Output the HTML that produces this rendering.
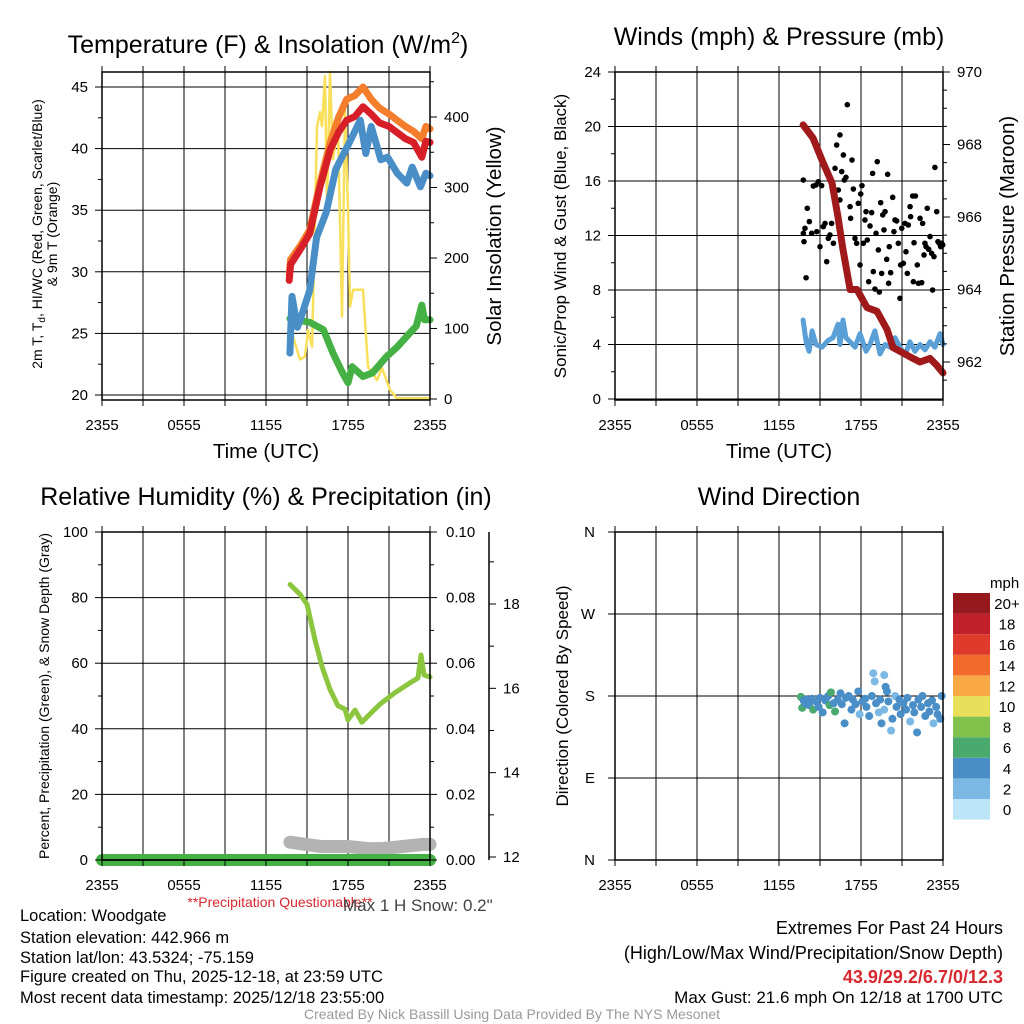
<!DOCTYPE html>
<html><head><meta charset="utf-8">
<style>
html,body{margin:0;padding:0;background:#fff;}
svg{display:block;font-family:"Liberation Sans",Arial,sans-serif;}
</style></head>
<body>
<svg id="chart" width="1024" height="1024" viewBox="0 0 1024 1024" xmlns="http://www.w3.org/2000/svg">
<rect x="0" y="0" width="1024" height="1024" fill="#fff"/>
<g id="marks"></g>
<g id="frames"></g>
<g font-size="25" text-anchor="middle" fill="#000">
<text x="268" y="53">Temperature (F) &amp; Insolation (W/m<tspan font-size="16" dy="-10">2</tspan><tspan dy="10">)</tspan></text>
<text x="779" y="45">Winds (mph) &amp; Pressure (mb)</text>
<text x="266" y="505">Relative Humidity (%) &amp; Precipitation (in)</text>
<text x="779" y="505">Wind Direction</text>
</g>
<g font-size="20.5" text-anchor="middle">
<text x="266" y="458">Time (UTC)</text>
<text x="779" y="458">Time (UTC)</text>
<text transform="translate(501,236) rotate(-90)">Solar Insolation (Yellow)</text>
<text transform="translate(1014,236) rotate(-90)">Station Pressure (Maroon)</text>
</g>
<g font-size="14" text-anchor="middle">
<text transform="translate(42,234) rotate(-90)">2m T, T<tspan font-size="10" dy="3">d</tspan><tspan dy="-3">, HI/WC (Red, Green, Scarlet/Blue)</tspan></text>
<text transform="translate(57,234) rotate(-90)">&amp; 9m T (Orange)</text>
<text transform="translate(49,696) rotate(-90)">Percent, Precipitation (Green), &amp; Snow Depth (Gray)</text>
</g>
<g font-size="17" text-anchor="middle">
<text transform="translate(566,236) rotate(-90)">Sonic/Prop Wind &amp; Gust (Blue, Black)</text>
<text transform="translate(568,696) rotate(-90)">Direction (Colored By Speed)</text>
</g>
<text x="280" y="907" font-size="14" fill="#d6282e" text-anchor="middle">**Precipitation Questionable**</text>
<text x="343" y="911" font-size="17" fill="#444">Max 1 H Snow: 0.2"</text>
<g font-size="16.5" fill="#000">
<text x="20" y="921">Location: Woodgate</text>
<text x="20" y="943">Station elevation: 442.966 m</text>
<text x="20" y="963">Station lat/lon: 43.5324; -75.159</text>
<text x="20" y="982">Figure created on Thu, 2025-12-18, at 23:59 UTC</text>
<text x="20" y="1003">Most recent data timestamp: 2025/12/18 23:55:00</text>
</g>
<g font-size="18" text-anchor="end">
<text x="1003" y="934">Extremes For Past 24 Hours</text>
<text x="1003" y="959">(High/Low/Max Wind/Precipitation/Snow Depth)</text>
<text x="1003" y="983" fill="#d6282e" font-weight="bold">43.9/29.2/6.7/0/12.3</text>
<text x="1003" y="1003" font-size="17">Max Gust: 21.6 mph On 12/18 at 1700 UTC</text>
</g>
<text x="512" y="1019" font-size="14" fill="#999" text-anchor="middle">Created By Nick Bassill Using Data Provided By The NYS Mesonet</text>
</svg>
<script>
// ---------- data ----------
const xTickLabels = ["2355","0555","1155","1755","2355"];
const tempTicks = [20,25,30,35,40,45];
const solarTicks = [0,100,200,300,400];
const windTicks = [0,4,8,12,16,20,24];
const pressTicks = [962,964,966,968,970];
const rhTicks = [0,20,40,60,80,100];
const precipTicks = ["0.00","0.02","0.04","0.06","0.08","0.10"];
const snowTicks = [12,14,16,18];
const dirLabels = ["N","E","S","W","N"];
const speedBins = ["0","2","4","6","8","10","12","14","16","18","20+"];
const speedColors = ["#bde5f8","#7cb8e4","#4a8ec8","#4aaa6e","#80c24b","#e8e05a","#f8a945","#f26a2c","#df3a2b","#c0202a","#961a1d"];

const tempHours = [13.7,13.8,14.5,15.2,15.95,16.7,17.3,17.9,18.5,19.1,19.7,20.3,21.0,21.6,22.2,22.8,23.4,23.7,24];
const redTemp = [29.3,30.6,31.8,33.1,36.9,39.9,41.3,42.3,42.6,43.4,42.8,42.1,41.8,41.3,40.8,40.5,39.3,40.6,40.5];
const orangeTemp = [29.8,31.0,32.1,33.4,37.2,40.5,42.5,44.0,44.3,45.0,44.0,43.3,42.8,42.3,41.8,41.4,40.8,41.8,41.6];
const blueHours = [13.75,13.9,14.3,14.5,15.2,15.7,16.4,17.1,18.1,18.9,19.3,19.7,20.4,20.9,21.6,22.3,22.7,23.3,23.7,24];
const blueTemp = [23.4,28,25.5,26.1,28.5,32.8,34.8,38.3,40.5,42.3,39.6,41.8,39.1,39.3,38,37.2,38.5,36.9,38,37.8];
const greenHours = [13.75,15.2,16.2,16.9,17.6,18.0,18.3,19.1,19.8,20.8,21.6,22.5,23.0,23.4,23.6,24];
const greenTemp = [26.2,25.9,25.3,23.4,21.8,21,22.3,21.5,21.8,23.1,23.9,25,25.6,27.3,26.1,26.1];
const solarHours = [13.76,13.98,14.49,14.85,15.07,15.37,15.73,15.95,16.1,16.32,16.46,16.68,16.9,17.27,17.56,17.78,18.0,18.15,18.37,19.1,19.46,20.12,20.49,21.07,21.58,23.93];
const solarVals = [84,88,56,60,98,74,387,407,387,458,273,464,340,387,117,411,269,131,155,155,46,27,44,13,1,1];

const pressHours = [13.76,14.49,15.22,15.88,16.32,16.68,17.2,17.71,18.44,19.17,19.9,20.34,21.07,21.8,22.32,23.05,23.56,24];
const pressVals = [968.54,968.18,967.5,966.94,966,965.1,964,964,963.5,963.4,962.9,962.4,962.25,962.1,962,962.1,961.9,961.7];
const windHours = [13.76,13.98,14.2,14.42,14.71,15.15,15.59,15.95,16.32,16.46,16.68,16.9,17.2,17.56,17.93,18.37,18.66,19.02,19.39,19.76,20.12,20.49,20.85,21.22,21.58,21.95,22.32,22.68,23.05,23.41,23.78,24];
const windVals = [5.8,4.2,3.5,5.0,4.0,3.8,4.3,4.5,5.5,4.0,5.8,4.5,4.2,3.8,4.8,3.5,4.0,5.0,3.3,4.0,3.8,4.5,3.8,3.2,4.2,3.5,4.0,3.6,4.2,3.8,4.8,4.0];
const gustHours = [13.78,14.07,13.98,13.9,13.78,13.83,14.22,14.39,14.51,14.71,14.88,15.12,14.76,15.0,15.24,15.37,15.49,15.61,15.73,15.85,15.98,16.1,16.22,16.46,16.59,16.71,16.78,16.9,17.0,16.34,16.46,17.2,17.24,17.34,17.44,17.56,17.68,17.8,17.93,17.98,18.07,18.17,18.29,18.37,18.46,18.56,18.66,18.78,18.85,18.9,19.02,19.1,19.19,19.27,19.34,19.44,19.51,19.59,19.68,19.76,19.88,19.95,20.02,20.07,20.17,20.32,20.41,20.49,20.61,20.73,20.85,20.9,20.98,21.1,21.22,21.29,21.39,21.46,21.59,21.63,21.78,21.88,21.98,21.83,22.12,22.2,22.32,22.44,22.51,22.61,22.68,22.76,22.85,22.95,23.05,23.17,23.24,23.34,23.41,23.54,23.63,23.73,23.83,23.9,23.98];
const gustVals = [16.07,14.0,8.9,12.53,12.16,11.55,13.02,12.16,15.63,15.71,15.95,15.66,12.28,11.18,12.65,12.89,10.08,11.79,12.04,12.89,11.43,16.93,18.64,19.38,16.69,17.91,16.07,16.27,21.6,15.34,14.61,14.12,13.26,17.54,15.41,11.79,11.43,14.36,9.84,15.05,15.66,11.43,13.14,13.75,11.67,8.61,12.70,13.68,16.56,9.35,8.07,12.16,17.42,10.94,7.85,14.41,9.22,13.51,12.41,13.75,10.25,16.49,8.49,11.18,9.27,14.80,12.28,13.14,13.07,11.43,7.39,9.84,12.53,9.96,12.89,10.81,9.22,12.77,14.12,13.38,14.90,11.47,14.90,8.61,9.84,8.49,13.26,8.54,12.89,10.57,11.43,11.18,14.0,10.99,11.92,10.69,8.0,10.45,17.0,13.75,11.55,11.43,11.18,11.43,11.30];

const rhHours = [13.76,14.49,15.0,15.59,16.1,16.68,17.27,17.78,18.0,18.51,19.02,19.61,20.34,21.44,22.54,23.12,23.34,23.56,24];
const rhVals = [84,81,78,67,59,52,47,46,42.7,45.7,42,44.5,47.5,51,54,55.5,62.5,56.4,55.8];
const precipHours = [0,24];
const precipVals = [0,0];
const snowHours = [13.75,16,18,19.5,20.5,22,23.5,24];
const snowVals = [12.35,12.25,12.25,12.2,12.2,12.25,12.3,12.3];

const dirHours = [13.6,13.7,13.8,13.9,14.0,14.2,14.4,14.5,14.7,14.9,15.0,15.2,15.4,15.6,15.7,15.8,16.0,16.1,16.3,16.5,16.6,16.8,16.9,17.1,17.3,17.4,17.6,17.8,17.9,18.1,18.3,18.4,18.6,18.8,18.9,19.0,19.1,19.3,19.4,19.5,19.7,19.7,19.8,19.9,20.0,20.2,20.3,20.5,20.6,20.8,20.9,21.1,21.3,21.4,21.6,21.8,21.9,22.1,22.2,22.4,22.5,22.7,22.9,23.0,23.2,23.3,23.5,23.6,23.8,23.9];
const dirVals = [179,167,175,172,176,170,177,165,174,168,178,162,175,180,170,184,172,163,176,183,171,150,178,180,165,176,171,185,160,174,177,168,158,180,205,196,172,162,176,150,165,203,190,185,174,142,155,180,168,176,160,172,165,178,152,170,162,140,176,168,180,158,172,163,175,150,168,160,155,180];
const dirSpeeds = [6.5,6.5,4,4,4.5,4,4,6.5,4,4,4,4,4,4,6.5,6.5,4,6.5,4,4,4,4,4,4,4,4,4,4,3,4,4,4,4,4,3,3,4,3,4,4,3,3,4,4,4,3,4,3,4,4,4,4,4,4,3,4,4,4,4,4,4,4,4,4,4,3,4,4,4,4];

// ---------- helpers ----------
const NS = "http://www.w3.org/2000/svg";
const marks = document.getElementById('marks');
const frames = document.getElementById('frames');
function mk(tag, attrs, parent){
  const e = document.createElementNS(NS, tag);
  for (const k in attrs) e.setAttribute(k, attrs[k]);
  parent.appendChild(e);
  return e;
}
function linear(d0,d1,r0,r1){ return v => r0 + (v-d0)/(d1-d0)*(r1-r0); }

const panels = {
  tl:{x0:102,x1:430,y0:72,y1:400},
  tr:{x0:615,x1:943,y0:72,y1:400},
  bl:{x0:102,x1:430,y0:532,y1:860},
  br:{x0:615,x1:943,y0:532,y1:860}
};
function xScale(p){ return linear(0,24,p.x0,p.x1); }

function frame(p, name){
  const g = mk('g', {}, frames);
  
  
  const xs = xScale(p);
  for (let h=3; h<24; h+=3){
    const l = mk('line',{x1:xs(h),x2:xs(h),y1:p.y0,y2:p.y1,stroke:'#000','stroke-width':1}, marks);
    
    
  }
  for (let h=0; h<=24; h+=3){
    mk('line',{x1:xs(h),x2:xs(h),y1:p.y1,y2:p.y1+6,stroke:'#000'}, g);
    mk('line',{x1:xs(h),x2:xs(h),y1:p.y0,y2:p.y0-6,stroke:'#000'}, g);
  }
  xTickLabels.forEach((t,i)=>{
    const tx = mk('text',{x:xs(i*6),y:p.y1+30,'font-size':15,'text-anchor':'middle'}, g);
    tx.textContent = t;
    
    
  });
  const r = mk('rect',{x:p.x0,y:p.y0,width:p.x1-p.x0,height:p.y1-p.y0,fill:'none',stroke:'#000','stroke-width':1.5}, g);
  
  
  return g;
}
function yAxis(p, g, vals, labels, scale, side, labelX, grid, minor){
  vals.forEach((v,i)=>{
    const y = scale(v);
    const x = side==='left'? p.x0 : p.x1;
    const dir = side==='left'? -1 : 1;
    mk('line',{x1:x,x2:x+7*dir,y1:y,y2:y,stroke:'#000'}, g);
    if (grid){
      const l = mk('line',{x1:p.x0,x2:p.x1,y1:y,y2:y,stroke:'#000','stroke-width':1}, marks);
      
      
    }
    const t = mk('text',{x:labelX,y:y+5,'font-size':15,'text-anchor': side==='left'?'end':'start'}, g);
    t.textContent = labels[i];
    
    
  });
  if (minor){
    minor.forEach(v=>{
      const y = scale(v); const x = side==='left'? p.x0 : p.x1;
      mk('line',{x1:x,x2:x+(side==='left'?-4:4),y1:y,y2:y,stroke:'#000'}, g);
    });
  }
}
function path(xs, ys, hours, vals, color, width, name, cap){
  let d = '';
  hours.forEach((h,i)=>{ d += (i?'L':'M') + xs(h).toFixed(1) + ',' + ys(vals[i]).toFixed(1); });
  const e = mk('path',{d:d,fill:'none',stroke:color,'stroke-width':width,'stroke-linejoin':'round','stroke-linecap':cap||'round'}, marks);
  
  
  return e;
}

// ---------- panel 1: temperature ----------
{
  const p = panels.tl, g = frame(p,'temperature');
  const xs = xScale(p);
  const yT = linear(20,45,395,87);
  const yS = linear(0,400,399,117);
  yAxis(p,g,tempTicks,tempTicks,yT,'left',p.x0-14,true,[22.5,27.5,32.5,37.5,42.5]);
  yAxis(p,g,solarTicks,solarTicks,yS,'right',p.x1+14,false,[50,150,250,350,450]);
  path(xs,yS,solarHours,solarVals,'#f8e05a',2.5,'solar-insolation-line');
  path(xs,yT,greenHours,greenTemp,'#45b043',7,'dewpoint-line');
  path(xs,yT,tempHours,orangeTemp,'#f57e2c',7,'nine-meter-temp-line');
  path(xs,yT,tempHours,redTemp,'#d61f26',7,'two-meter-temp-line');
  path(xs,yT,blueHours,blueTemp,'#4a8ec8',7,'wind-chill-line');
}
// ---------- panel 2: winds ----------
{
  const p = panels.tr, g = frame(p,'winds');
  const xs = xScale(p);
  const yW = linear(0,24,399,72);
  const yP = linear(962,970,362,72);
  yAxis(p,g,windTicks,windTicks,yW,'left',p.x0-14,true,[2,6,10,14,18,22]);
  yAxis(p,g,pressTicks,pressTicks,yP,'right',p.x1+14,false,[961.5,962.5,963,963.5,964.5,965,965.5,966.5,967,967.5,968.5,969,969.5]);
  path(xs,yW,windHours,windVals,'#5a9fd6',5,'sustained-wind-line');
  gustHours.forEach((h,i)=>{
    const c = mk('circle',{cx:xs(h),cy:yW(gustVals[i]),r:2.8,fill:'#000'}, marks);
    
    
  });
  path(xs,yP,pressHours,pressVals,'#a01a1c',7,'pressure-line');
}
// ---------- panel 3: humidity ----------
{
  const p = panels.bl, g = frame(p,'humidity');
  const xs = xScale(p);
  const yR = linear(0,100,860,532);
  const ySn = linear(12,18,857,604);
  yAxis(p,g,rhTicks,rhTicks,yR,'left',p.x0-14,true,[10,30,50,70,90]);
  yAxis(p,g,rhTicks,precipTicks,yR,'right',p.x1+16,false,[10,30,50,70,90]);
  const ax = mk('line',{x1:489,x2:489,y1:532,y2:860,stroke:'#000','stroke-width':1.5}, g);
  
  
  snowTicks.forEach(v=>{
    mk('line',{x1:489,x2:496,y1:ySn(v),y2:ySn(v),stroke:'#000'}, g);
    mk('line',{x1:489,x2:494,y1:ySn(v+1),y2:ySn(v+1),stroke:'#000'}, g);
    const t = mk('text',{x:503,y:ySn(v)+5,'font-size':15}, g);
    t.textContent = v;
    
    
  });
  path(xs,ySn,snowHours,snowVals,'#b3b3b3',13,'snow-depth-line');
  path(xs,yR,precipHours,precipVals,'#45b043',12,'precipitation-line');
  const base = mk('line',{x1:p.x0,x2:p.x1,y1:p.y1,y2:p.y1,stroke:'#000','stroke-width':1.5}, marks);
  
  
  path(xs,yR,rhHours,rhVals,'#8cc63f',5,'relative-humidity-line');
}
// ---------- panel 4: wind direction ----------
{
  const p = panels.br, g = frame(p,'wind-direction');
  const xs = xScale(p);
  const yD = linear(0,360,860,532);
  yAxis(p,g,[0,90,180,270,360],dirLabels,yD,'left',p.x0-20,true,null);
  dirHours.forEach((h,i)=>{
    const bin = Math.min(10, Math.floor(dirSpeeds[i]/2));
    const c = mk('circle',{cx:xs(h),cy:yD(dirVals[i]),r:4,fill:speedColors[bin]}, marks);
    
    
  });
  const lg = mk('g',{}, frames);
  
  
  const t0 = mk('text',{x:990,y:588,'font-size':15}, lg);
  t0.textContent = 'mph';
  speedBins.forEach((lab,i)=>{
    const k = speedBins.length-1-i;
    const y = 593 + k*20.6;
    const r = mk('rect',{x:953,y:y,width:37,height:20.6,fill:speedColors[i]}, lg);
    
    
    const t = mk('text',{x:1007,y:y+16,'font-size':15,'text-anchor':'middle'}, lg);
    t.textContent = lab;
    
    
  });
}
</script>
</body></html>
